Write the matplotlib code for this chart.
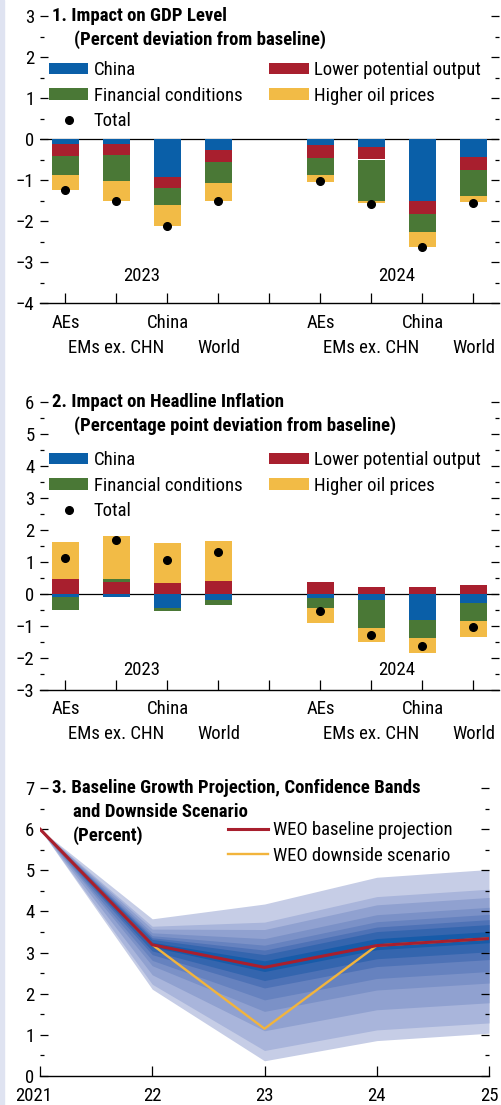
import matplotlib
matplotlib.use("Agg")
import matplotlib.pyplot as plt
from matplotlib.patches import Rectangle
from matplotlib.ticker import MultipleLocator
from matplotlib.transforms import ScaledTranslation

plt.rcParams['font.family'] = ['Roboto Condensed', 'DejaVu Sans']
plt.rcParams['font.size'] = 13.5

# slots on the x axis, the empty one splits 2023 from 2024
slot_labels = ['AEs', 'EMs ex. CHN', 'China', 'World', '',
               'AEs', 'EMs ex. CHN', 'China', 'World']
years = ['2023', '2024']

# 1. impact on GDP level (percent deviation from baseline)
gdp_china = [-0.11, -0.11, -0.93, -0.26, -0.15, -0.19, -1.52, -0.43]
gdp_potential = [-0.30, -0.27, -0.26, -0.29, -0.31, -0.31, -0.30, -0.32]
gdp_financial = [-0.48, -0.64, -0.41, -0.52, -0.41, -1.02, -0.46, -0.63]
gdp_oil = [-0.36, -0.50, -0.53, -0.45, -0.17, -0.05, -0.36, -0.16]
gdp_total = [-1.25, -1.52, -2.12, -1.52, -1.03, -1.58, -2.63, -1.55]

# 2. impact on headline inflation (percentage point deviation)
inf_china = [-0.11, -0.11, -0.44, -0.19, -0.12, -0.19, -0.80, -0.28]
inf_potential = [0.47, 0.38, 0.34, 0.41, 0.37, 0.22, 0.22, 0.28]
inf_financial = [-0.38, 0.08, -0.08, -0.15, -0.31, -0.87, -0.57, -0.56]
inf_oil = [1.16, 1.34, 1.25, 1.25, -0.49, -0.43, -0.49, -0.49]
inf_total = [1.12, 1.69, 1.07, 1.32, -0.53, -1.27, -1.62, -1.02]

# 3. growth projection, fan bands from inner to outer
fan_years = [2021, 2022, 2023, 2024, 2025]
fan_ticklabels = ['2021', '22', '23', '24', '25']
baseline = [6.0, 3.19, 2.64, 3.17, 3.34]
downside = [6.0, 3.19, 1.15, 3.17, 3.34]
fan_upper = [
    [6.0, 3.25, 2.80, 3.34, 3.51],
    [6.0, 3.32, 2.95, 3.51, 3.68],
    [6.0, 3.36, 3.06, 3.62, 3.80],
    [6.0, 3.41, 3.18, 3.75, 3.93],
    [6.0, 3.48, 3.34, 3.92, 4.10],
    [6.0, 3.57, 3.56, 4.16, 4.34],
    [6.0, 3.64, 3.74, 4.36, 4.54],
    [6.0, 3.82, 4.18, 4.83, 5.02],
]
fan_lower = [
    [6.0, 3.14, 2.54, 3.07, 3.24],
    [6.0, 3.04, 2.32, 2.85, 3.02],
    [6.0, 2.95, 2.14, 2.66, 2.83],
    [6.0, 2.81, 1.85, 2.37, 2.54],
    [6.0, 2.68, 1.57, 2.09, 2.26],
    [6.0, 2.46, 1.10, 1.61, 1.78],
    [6.0, 2.23, 0.62, 1.12, 1.29],
    [6.0, 2.11, 0.37, 0.86, 1.04],
]

c_china = '#0a5fa8'
c_potential = '#a81f2e'
c_financial = '#4a7836'
c_oil = '#f2bb46'
fan_colors = ['#175ba9', '#3465ae', '#4e72b6', '#6682bf', '#7b91c7',
              '#90a1d0', '#a9b5db', '#c6cde6']

W, H = 502, 1105
fig = plt.figure(figsize=(W / 100, H / 100), dpi=100)
fig.add_artist(Rectangle((0, 0), 4 / W, 1, transform=fig.transFigure,
                         color='#dfe3f1', zorder=0))


def px_axes(left, top, right, bottom):
    return fig.add_axes([left / W, 1 - bottom / H, (right - left) / W, (bottom - top) / H])


def style_axes(ax, ylo, yhi):
    ax.set_ylim(ylo, yhi)
    ax.yaxis.set_major_locator(MultipleLocator(1))
    ax.yaxis.set_minor_locator(MultipleLocator(0.5))
    ax.tick_params(axis='y', which='both', direction='in', left=True, right=True,
                   width=0.9, pad=4)
    ax.tick_params(axis='y', which='major', length=6)
    ax.tick_params(axis='y', which='minor', length=3)
    ax.tick_params(axis='x', which='both', direction='in', length=7, width=0.9)
    for s in ['left', 'right', 'top']:
        ax.spines[s].set_visible(False)
    ax.spines['bottom'].set_linewidth(1.0)
    ax.set_facecolor('none')


def title_lines(ax, lines, step):
    for i, t in enumerate(lines):
        x = 0.027 if i == 0 else 0.073
        ax.text(x, 1 - i * step, t, transform=ax.transAxes, fontweight='bold',
                va='center', ha='left', fontsize=13.5)


def bar_panel(ax, comps, total, ylo, yhi, title, year_y, legend_y, label_pad):
    pos = [i for i, l in enumerate(slot_labels) if l]
    pos_bottom = [0.0] * len(pos)
    neg_bottom = [0.0] * len(pos)
    for vals, col, lab in comps:
        bottoms = []
        for j, v in enumerate(vals):
            if v >= 0:
                bottoms.append(pos_bottom[j])
                pos_bottom[j] += v
            else:
                bottoms.append(neg_bottom[j])
                neg_bottom[j] += v
        ax.bar(pos, vals, bottom=bottoms, width=0.51, color=col, label=lab, zorder=2)
    ax.plot(pos, total, 'o', color='black', markersize=5.5, zorder=3, label='Total')
    ax.axhline(0, color='black', lw=0.9, zorder=1)
    ax.set_xlim(-0.5, len(slot_labels) - 0.5)
    style_axes(ax, ylo, yhi)
    # first and third label of a group on the upper row, the others on the lower row
    upper = [i for i in range(len(slot_labels)) if (i % 5) % 2 == 0]
    lower = [i for i in range(len(slot_labels)) if (i % 5) % 2 == 1]
    ax.set_xticks(upper)
    ax.set_xticklabels([slot_labels[i] for i in upper])
    ax.set_xticks(lower, minor=True)
    ax.set_xticklabels([slot_labels[i] for i in lower], minor=True)
    ax.tick_params(axis='x', which='major', pad=label_pad)
    ax.tick_params(axis='x', which='minor', pad=label_pad + 18)
    for k, y in enumerate(years):
        ax.text(1.5 + 5 * k, year_y, y, ha='center', va='center')
    title_lines(ax, title, 24 / 288)
    h = {lab: hd for hd, lab in zip(*ax.get_legend_handles_labels())}
    order = ['China', 'Financial conditions', 'Total', 'Lower potential output', 'Higher oil prices']
    ax.legend([h[o] for o in order], order, ncol=2, loc='upper left',
              bbox_to_anchor=(0.0196, legend_y), frameon=False, borderpad=0, borderaxespad=0,
              handlelength=2.1, handleheight=0.55, handletextpad=0.3,
              labelspacing=0.41, columnspacing=1.42, fontsize=13.5)


ax1 = px_axes(40, 16, 499, 303)
bar_panel(ax1, [(gdp_china, c_china, 'China'), (gdp_potential, c_potential, 'Lower potential output'),
                (gdp_financial, c_financial, 'Financial conditions'), (gdp_oil, c_oil, 'Higher oil prices')],
          gdp_total, -4, 3, ['1. Impact on GDP Level', '(Percent deviation from baseline)'], -3.35,
          0.843, 8)

ax2 = px_axes(40, 401.7, 499, 690)
bar_panel(ax2, [(inf_china, c_china, 'China'), (inf_potential, c_potential, 'Lower potential output'),
                (inf_financial, c_financial, 'Financial conditions'), (inf_oil, c_oil, 'Higher oil prices')],
          inf_total, -3, 6, ['2. Impact on Headline Inflation',
                             '(Percentage point deviation from baseline)'], -2.37,
          0.829, 7)

ax3 = px_axes(40, 788, 489, 1076)
for k in range(len(fan_upper) - 1, -1, -1):
    ax3.fill_between(fan_years, fan_lower[k], fan_upper[k], color=fan_colors[k], lw=0, zorder=1)
ax3.plot(fan_years, downside, color='#f2b43c', lw=1.7, zorder=3, label='WEO downside scenario')
ax3.plot(fan_years, baseline, color=c_potential, lw=2.2, zorder=4, label='WEO baseline projection')
ax3.set_xlim(2021, 2025)
style_axes(ax3, 0, 7)
ax3.set_xticks(fan_years)
ax3.set_xticklabels(fan_ticklabels)
ax3.tick_params(axis='x', pad=8)
first = ax3.get_xticklabels()[0]
first.set_transform(first.get_transform() + ScaledTranslation(-6 / 100, 0, fig.dpi_scale_trans))
title_lines(ax3, ['3. Baseline Growth Projection, Confidence Bands',
                  'and Downside Scenario', '(Percent)'], 24 / 288)
lh, ll = ax3.get_legend_handles_labels()
ax3.legend(lh[::-1], ll[::-1], loc='upper left', bbox_to_anchor=(0.419, 0.885),
           frameon=False, borderpad=0, borderaxespad=0, handlelength=2.1,
           handletextpad=0.3, labelspacing=0.41, fontsize=13.5)

fig.savefig('out.png', dpi=100)
